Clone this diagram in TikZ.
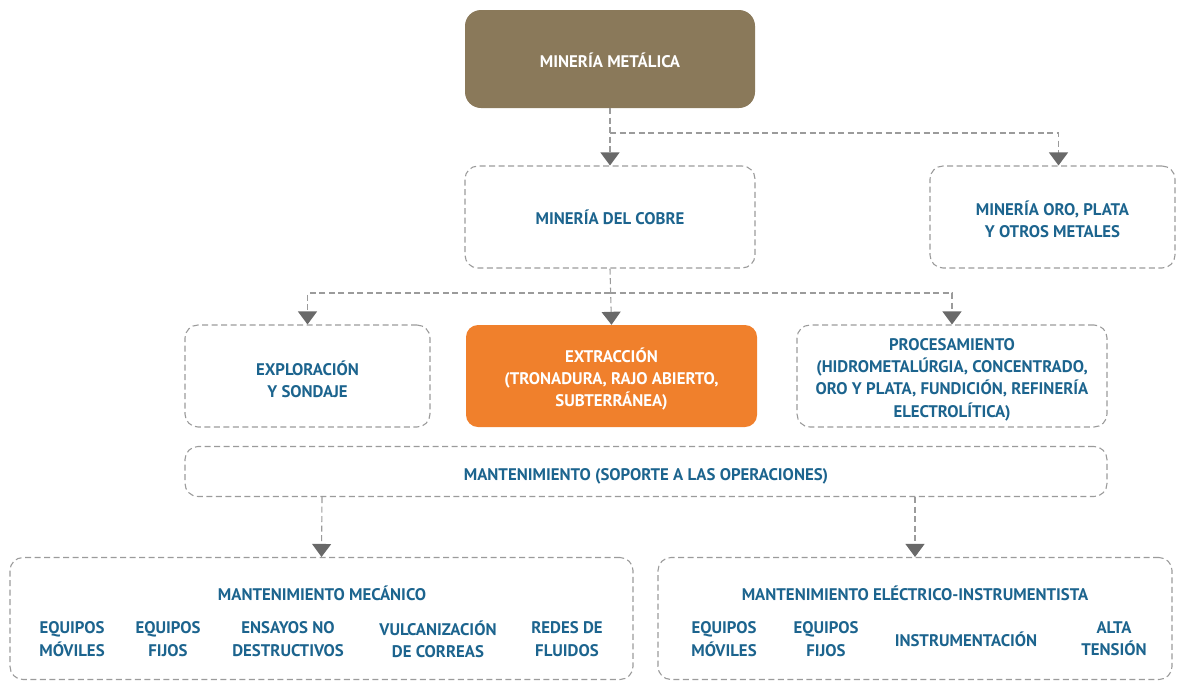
\documentclass[tikz,border=0pt]{standalone}
\usepackage{fontspec}
\setmainfont{PT Sans}
\usetikzlibrary{arrows.meta}
\definecolor{txtblue}{RGB}{28,100,142}
\definecolor{brownbox}{RGB}{138,121,90}
\definecolor{orangebox}{RGB}{240,128,44}
\definecolor{dashgrey}{RGB}{155,155,155}
\definecolor{arrgrey}{RGB}{105,105,105}
\tikzset{
  lbl/.style={font=\fontsize{16.8}{22.3}\selectfont\bfseries, text=txtblue, align=center, inner sep=0pt},
  wlbl/.style={lbl, text=white},
  dbox/.style={draw=dashgrey, line width=1.1pt, dash pattern=on 6pt off 3.5pt, rounded corners=13pt},
  conn/.style={draw=dashgrey, line width=1.1pt, dash pattern=on 6pt off 3.5pt, -{Triangle[width=19pt,length=13pt,fill=arrgrey,color=arrgrey]}},
}
\begin{document}
\begin{tikzpicture}[x=1pt,y=-1pt]
\useasboundingbox (0,0) rectangle (1183,681);
% boxes
\node[fill=brownbox, rounded corners=16pt, minimum width=290pt, minimum height=98pt] (top) at (610,59) {};
\node[wlbl] (topt) at (610,60) {MINERÍA METÁLICA};
\node[dbox, minimum width=290pt, minimum height=102pt] (cobre) at (610,217) {};
\node[lbl] (cobret) at (610,217) {MINERÍA DEL COBRE};
\node[dbox, minimum width=245pt, minimum height=102pt] (oro) at (1052.5,217) {};
\node[lbl] (orot) at (1052.5,219) {MINERÍA ORO, PLATA\\Y OTROS METALES};
\node[dbox, minimum width=245pt, minimum height=102pt] (expl) at (307.5,376) {};
\node[lbl] (explt) at (307.5,379) {EXPLORACIÓN\\Y SONDAJE};
\node[fill=orangebox, rounded corners=12pt, minimum width=291pt, minimum height=102pt] (extr) at (611.5,376) {};
\node[wlbl] (extrt) at (611.5,379) {EXTRACCIÓN\\(TRONADURA, RAJO ABIERTO,\\SUBTERRÁNEA)};
\node[dbox, minimum width=310pt, minimum height=102pt] (proc) at (952,376) {};
\node[lbl] (proct) at (952,379.5) {PROCESAMIENTO\\(HIDROMETALÚRGIA, CONCENTRADO,\\ORO Y PLATA, FUNDICIÓN, REFINERÍA\\ELECTROLÍTICA)};
\node[dbox, minimum width=922pt, minimum height=50pt] (mant) at (646,471.5) {};
\node[lbl] (mantt) at (646,476) {MANTENIMIENTO (SOPORTE A LAS OPERACIONES)};
\node[dbox, minimum width=623pt, minimum height=122pt] (mec) at (321.5,618.5) {};
\node[dbox, minimum width=514pt, minimum height=122pt] (ele) at (915,618.5) {};
% inner labels
\node[lbl] (mect) at (322,593) {MANTENIMIENTO MECÁNICO};
\node[lbl] (m1) at (72,639) {EQUIPOS\\MÓVILES};
\node[lbl] (m2) at (168,639) {EQUIPOS\\FIJOS};
\node[lbl] (m3) at (288,639) {ENSAYOS NO\\DESTRUCTIVOS};
\node[lbl] (m4) at (438,639) {VULCANIZACIÓN\\DE CORREAS};
\node[lbl] (m5) at (567,639) {REDES DE\\FLUIDOS};
\node[lbl] (elet) at (915,593) {MANTENIMIENTO ELÉCTRICO-INSTRUMENTISTA};
\node[lbl] (e1) at (724,639) {EQUIPOS\\MÓVILES};
\node[lbl] (e2) at (826,639) {EQUIPOS\\FIJOS};
\node[lbl] (e3) at (966,639) {INSTRUMENTACIÓN};
\node[lbl] (e4) at (1114,639) {ALTA\\TENSIÓN};
% connectors
\coordinate (j1) at (610,133);
\coordinate (j2) at (610,293);
\draw[conn] (top.south) -- (cobre.north);
\draw[conn] (j1) -| ([xshift=6pt]oro.north);
\draw[conn] (cobre.south) -- (extr.north);
\draw[conn] (j2) -| (expl.north);
\draw[conn] (j2) -| (proc.north);
\draw[conn] ([xshift=-324pt]mant.south) -- (mec.north);
\draw[conn] ([xshift=269pt]mant.south) -- (ele.north);
\end{tikzpicture}
\end{document}
